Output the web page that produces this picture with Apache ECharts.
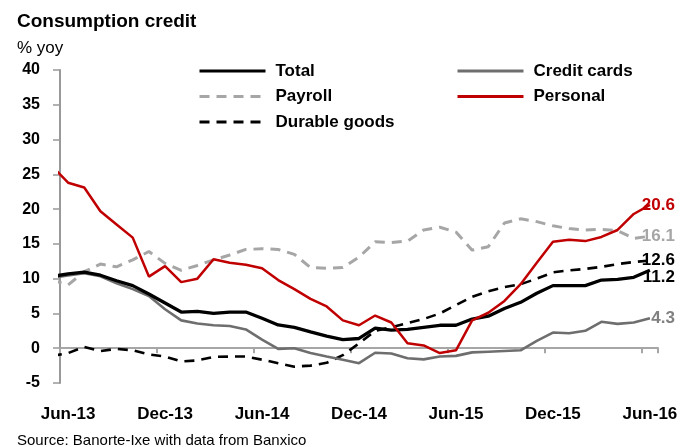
<!DOCTYPE html>
<html><head><meta charset="utf-8">
<script src="https://cdn.jsdelivr.net/npm/echarts@6/dist/echarts.min.js"></script>
<style>html,body{margin:0;padding:0;background:#fff}#c{width:694px;height:447px}</style>
</head><body><div id="c"></div>
<script>
// first entry (May-13) lies just left of the plot area and is clipped, as in the original
const months = ['May-13','Jun-13','Jul-13','Aug-13','Sep-13','Oct-13','Nov-13','Dec-13',
  'Jan-14','Feb-14','Mar-14','Apr-14','May-14','Jun-14','Jul-14','Aug-14','Sep-14','Oct-14','Nov-14','Dec-14',
  'Jan-15','Feb-15','Mar-15','Apr-15','May-15','Jun-15','Jul-15','Aug-15','Sep-15','Oct-15','Nov-15','Dec-15',
  'Jan-16','Feb-16','Mar-16','Apr-16','May-16','Jun-16'];
const total    = [10.3, 10.7,10.95,10.5,9.7,9.0,7.8,6.5,5.2,5.3,5.0,5.2,5.2,4.3,3.35,3.0,2.35,1.75,1.25,1.4,2.9,2.6,2.7,3.0,3.3,3.3,4.2,4.6,5.7,6.6,7.9,9.0,9.0,9.0,9.8,9.9,10.2,11.2];
const credit   = [10.1, 10.45,10.8,10.35,9.35,8.5,7.5,5.6,4.0,3.55,3.3,3.2,2.7,1.25,-0.1,0.0,-0.7,-1.2,-1.65,-2.15,-0.65,-0.75,-1.45,-1.6,-1.2,-1.1,-0.6,-0.5,-0.4,-0.3,1.05,2.25,2.15,2.5,3.8,3.5,3.7,4.3];
const payroll  = [9.8, 9.1,11.0,12.1,11.7,12.7,13.9,12.2,11.2,11.9,12.7,13.4,14.2,14.3,14.2,13.5,11.6,11.5,11.6,13.1,15.3,15.2,15.4,17.0,17.4,16.7,14.1,14.6,18.0,18.6,18.2,17.6,17.2,17.0,17.1,16.9,15.8,16.1];
const personal = [26.2, 23.8,23.1,19.7,17.8,15.9,10.3,11.8,9.5,10.0,12.8,12.3,12.0,11.5,9.8,8.5,7.1,6.0,4.0,3.3,4.7,3.7,0.7,0.4,-0.7,-0.3,4.0,5.1,6.8,9.2,12.3,15.3,15.6,15.4,16.0,17.0,19.3,20.6];
const durable  = [-1.1, -0.7,0.2,-0.4,-0.1,-0.3,-0.9,-1.2,-1.9,-1.75,-1.25,-1.2,-1.2,-1.65,-2.15,-2.65,-2.5,-2.1,-1.0,0.7,2.5,3.0,3.6,4.2,5.0,6.2,7.4,8.2,8.8,9.2,10.0,10.9,11.2,11.4,11.7,12.1,12.4,12.6];

const FONT = "'Liberation Sans', Arial, sans-serif";
const pts = arr => arr.map((v, k) => [k - 1, v]);
const last = arr => arr[arr.length - 1].toFixed(1);

function mk(name, arr, color, width, dash, labelColor, labelOffset) {
  return {
    name, type: 'line', xAxisIndex: 1, data: pts(arr), symbol: 'none', clip: true,
    lineStyle: { color, width, type: dash || 'solid' },
    itemStyle: { color },
    endLabel: {
      show: true, formatter: () => last(arr), color: labelColor, fontFamily: FONT,
      fontWeight: 'bold', fontSize: 17, align: 'right', verticalAlign: 'middle',
      distance: 25, offset: labelOffset || [0, 0]
    },
    emphasis: { disabled: true }, animation: false, z: 2
  };
}

const legendText = { fontFamily: FONT, fontSize: 17, fontWeight: 'bold', color: '#000', lineHeight: 20, padding: [0, 0, 0, 5] };

const chart = echarts.init(document.getElementById('c'), null, { renderer: 'canvas' });
chart.setOption({
  animation: false,
  backgroundColor: '#fff',
  textStyle: { fontFamily: FONT },
  title: [
    { text: 'Consumption credit', left: 12, top: 7, textStyle: { fontFamily: FONT, fontSize: 19, fontWeight: 'bold', color: '#000' } },
    { text: '% yoy', left: 12, top: 35, textStyle: { fontFamily: FONT, fontSize: 17, fontWeight: 'normal', color: '#000' } },
    { text: 'Source: Banorte-Ixe with data from Banxico', left: 12, top: 428, textStyle: { fontFamily: FONT, fontSize: 15, fontWeight: 'normal', color: '#000' } }
  ],
  legend: [
    { orient: 'vertical', left: 198, top: 61, padding: 0, itemWidth: 66, itemHeight: 20, itemGap: 5.5,
      data: ['Total', 'Payroll', 'Durable goods'], itemStyle: { opacity: 0 }, lineStyle: { width: 3 }, textStyle: legendText },
    { orient: 'vertical', left: 456, top: 61, padding: 0, itemWidth: 66, itemHeight: 20, itemGap: 5.5,
      data: ['Credit cards', 'Personal'], itemStyle: { opacity: 0 }, lineStyle: { width: 3 }, textStyle: legendText }
  ],
  grid: { left: 60, right: 36, top: 70, bottom: 64, containLabel: false },
  xAxis: [
    { type: 'category', data: months.slice(1), boundaryGap: true, position: 'bottom',
      axisLine: { show: true, onZero: true, lineStyle: { color: '#a6a6a6', width: 2 } },
      axisTick: { show: true, interval: 5, length: 5, lineStyle: { color: '#a6a6a6', width: 2 } },
      axisLabel: { interval: 5, margin: 23, color: '#000', fontFamily: FONT, fontSize: 17, fontWeight: 'bold' },
      splitLine: { show: false } },
    { type: 'value', min: -0.5, max: 36.5, show: false, position: 'top', splitLine: { show: false } }
  ],
  yAxis: {
    type: 'value', min: -5, max: 40, interval: 5,
    axisLine: { show: true, onZero: false, lineStyle: { color: '#999', width: 2 } },
    axisTick: { show: true, length: 7, lineStyle: { color: '#999', width: 1.5 } },
    axisLabel: { margin: 20, color: '#000', fontFamily: FONT, fontSize: 16, fontWeight: 'bold' },
    splitLine: { show: false }
  },
  series: [
    mk('Payroll', payroll, '#a6a6a6', 3, [10, 7], '#a6a6a6'),
    mk('Durable goods', durable, '#000000', 2.6, [10, 7], '#000000'),
    mk('Credit cards', credit, '#6e6e6e', 2.6, null, '#808080'),
    mk('Total', total, '#000000', 3.3, null, '#000000', [0, 7]),
    mk('Personal', personal, '#c00000', 2.5, null, '#c00000')
  ]
});
</script>
</body></html>
